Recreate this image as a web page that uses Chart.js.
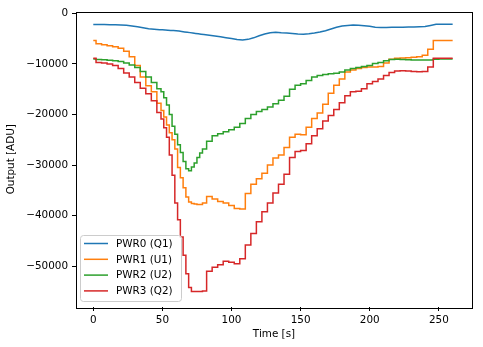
<!DOCTYPE html>
<html>
<head>
<meta charset="utf-8">
<script src="https://cdn.jsdelivr.net/npm/chart.js@4"></script>
<style>
  html, body { margin: 0; padding: 0; background: #fff; }
  #wrap { width: 483px; height: 347px; }
</style>
</head>
<body>
<div id="wrap"><canvas id="pwrChart" width="483" height="347"></canvas></div>
<script>
// sample times [s] (denser around the dip)
const time = [
    0,   4,   8,  12,  16,  20,  24,  28,  32,  36,  40,  44,
   48,  50,  52,  54,  56,  58,  60,  62,  64,  66,  68,  70,  72,  74,  76,  78,
   80,  84,  88,  92,  96, 100, 104, 108, 112, 116,
  120, 124, 128, 132, 136, 140, 144, 148, 152, 156,
  160, 164, 168, 172, 176, 180, 184, 188, 192, 196,
  200, 204, 208, 212, 216, 220, 224, 228, 232, 236,
  240, 244, 248, 252, 256, 260
];

const pwr0 = [
  -2200, -2200, -2220, -2240, -2270, -2300, -2380, -2500, -2650, -2850, -3050, -3150,
  -3230, -3260, -3300, -3340, -3380, -3420, -3450, -3520, -3600, -3680, -3750, -3820, -3900, -3970, -4050, -4120,
  -4200, -4350, -4500, -4650, -4830, -5000, -5200, -5300, -5150, -4850,
  -4450, -4100, -3850, -3770, -3850, -3900, -4000, -4100, -4150, -4050,
  -3900, -3700, -3450, -3100, -2750, -2500, -2420, -2330, -2350, -2450,
  -2550, -2750, -2800, -2800, -2780, -2780, -2750, -2720, -2700, -2650,
  -2600, -2400, -2180, -2180, -2180, -2180
];

const pwr1 = [
  -5400, -6000, -6200, -6400, -6600, -6900, -7500, -8600, -10300, -12600, -14300, -15500,
  -17800, -19200, -20500, -22100, -23600, -25000, -26800, -30500, -32500, -34500, -36300, -37300, -37600, -37700, -37800, -37800,
  -37500, -36200, -36700, -37200, -37500, -38000, -38600, -38700, -35600, -33800,
  -32700, -31600, -30000, -28600, -28000, -26500, -24500, -23900, -24000, -22500,
  -20800, -19700, -18000, -15800, -14200, -13000, -11600, -11200, -10900, -10700,
  -10600, -10600, -10500, -9800, -9100, -8900, -8850, -8800, -8700, -8600,
  -8300, -7100, -5400, -5400, -5400, -5400
];

const pwr2 = [
  -9050, -9150, -9200, -9300, -9400, -9550, -9800, -10200, -10700, -11500, -12600, -13700,
  -14900, -15500, -16700, -18100, -20000, -22300, -23900, -26000, -27500, -29300, -30700, -31100, -30400, -29600, -28500, -27600,
  -26800, -25300, -24200, -23800, -23400, -23000, -22500, -21800, -20800, -20000,
  -19400, -19000, -18500, -17900, -17200, -16400, -15000, -14200, -13900, -13300,
  -12600, -12300, -12100, -11950, -11850, -11600, -11200, -10900, -10700, -10500,
  -10300, -9900, -9700, -9400, -9150, -9100, -9150, -9200, -9250, -9250,
  -9250, -9250, -9100, -9050, -9050, -9050
];

const pwr3 = [
  -8900, -9700, -9800, -10000, -10300, -10900, -11800, -12600, -13700, -14800, -15900, -17300,
  -19600, -20900, -22600, -24500, -28000, -32000, -37500, -40800, -44200, -47800, -51500, -54200, -55000, -55000, -55000, -55000,
  -54900, -51000, -50200, -49700, -49000, -49200, -49500, -48500, -45800, -43500,
  -41200, -39200, -37500, -35500, -33800, -31800, -28500, -27300, -27100, -25800,
  -24200, -22800, -21300, -20200, -19000, -17700, -16300, -15500, -15400, -14900,
  -13900, -13500, -13000, -12300, -11700, -11400, -11350, -11400, -11500, -11550,
  -11500, -10600, -8900, -8900, -8900, -8900
];

const seriesNames = ['PWR0 (Q1)', 'PWR1 (U1)', 'PWR2 (U2)', 'PWR3 (Q2)'];
const seriesColors = ['#1f77b4', '#ff7f0e', '#2ca02c', '#d62728'];
const xTicks = [0, 50, 100, 150, 200, 250];
const yTicks = [0, -10000, -20000, -30000, -40000, -50000];

const FONT = 'DejaVu Sans';
const allSeries = [pwr0, pwr1, pwr2, pwr3];

const datasets = allSeries.map((vals, i) => ({
    label: seriesNames[i],
    data: time.map((t, k) => ({ x: t, y: vals[k] })),
    borderColor: seriesColors[i],
    backgroundColor: seriesColors[i],
    borderWidth: 1.5,
    pointRadius: 0,
    tension: 0,
    stepped: i === 0 ? false : 'middle',
    order: 3 - i
}));

// frame around the plot area + legend box in the lower left
const framePlugin = {
    id: 'frame',
    afterDatasetsDraw(chart) {
        const { ctx, chartArea: a } = chart;
        ctx.save();
        ctx.strokeStyle = '#000';
        ctx.lineWidth = 1;
        ctx.strokeRect(Math.round(a.left) + 0.5, Math.round(a.top) + 0.5,
            Math.round(a.right - a.left), Math.round(a.bottom - a.top));

        // legend
        const bx = 80.5, by = 235.5, bw = 101, bh = 66, r = 3;
        ctx.beginPath();
        ctx.moveTo(bx + r, by);
        ctx.arcTo(bx + bw, by, bx + bw, by + bh, r);
        ctx.arcTo(bx + bw, by + bh, bx, by + bh, r);
        ctx.arcTo(bx, by + bh, bx, by, r);
        ctx.arcTo(bx, by, bx + bw, by, r);
        ctx.closePath();
        ctx.fillStyle = 'rgba(255,255,255,0.8)';
        ctx.fill();
        ctx.strokeStyle = '#cccccc';
        ctx.stroke();

        ctx.font = '10.4px "' + FONT + '"';
        ctx.textBaseline = 'middle';
        ctx.textAlign = 'left';
        chart.data.datasets.forEach((ds, i) => {
            const y = 243.5 + i * 15.8;
            ctx.strokeStyle = ds.borderColor;
            ctx.lineWidth = 1.5;
            ctx.beginPath();
            ctx.moveTo(84, y);
            ctx.lineTo(108, y);
            ctx.stroke();
            ctx.fillStyle = '#000';
            ctx.fillText(ds.label, 116, y + 0.5);
        });
        ctx.restore();
    }
};

const minusFmt = v => (v < 0 ? '\u2212' + Math.abs(v) : String(v));

new Chart(document.getElementById('pwrChart'), {
    type: 'line',
    data: { datasets },
    options: {
        responsive: false,
        animation: false,
        layout: { padding: { left: 0, top: 11.5, right: 11, bottom: 0 } },
        plugins: {
            legend: { display: false },
            tooltip: { enabled: false }
        },
        scales: {
            x: {
                type: 'linear',
                min: -12.5,
                max: 274,
                afterBuildTicks: s => { s.ticks = xTicks.map(v => ({ value: v })); },
                afterFit: s => { s.height = 40; },
                grid: {
                    drawOnChartArea: false,
                    drawTicks: true,
                    tickLength: 4,
                    tickColor: '#000'
                },
                border: { display: false },
                ticks: {
                    color: '#000',
                    font: { family: FONT, size: 10.4 },
                    padding: 3,
                    maxRotation: 0
                },
                title: {
                    display: true,
                    text: 'Time [s]',
                    color: '#000',
                    font: { family: FONT, size: 10.4 },
                    padding: { top: 0, bottom: 6 }
                }
            },
            y: {
                type: 'linear',
                min: -58050,
                max: 356,
                afterBuildTicks: s => { s.ticks = yTicks.map(v => ({ value: v })); },
                afterFit: s => { s.width = 76; },
                grid: {
                    drawOnChartArea: false,
                    drawTicks: true,
                    tickLength: 4,
                    tickColor: '#000'
                },
                border: { display: false },
                ticks: {
                    color: '#000',
                    font: { family: FONT, size: 10.4 },
                    padding: 4,
                    callback: minusFmt
                },
                title: {
                    display: true,
                    text: 'Output [ADU]',
                    color: '#000',
                    font: { family: FONT, size: 10.4 },
                    padding: { top: 5, bottom: 0 }
                }
            }
        }
    },
    plugins: [framePlugin]
});
</script>
</body>
</html>
